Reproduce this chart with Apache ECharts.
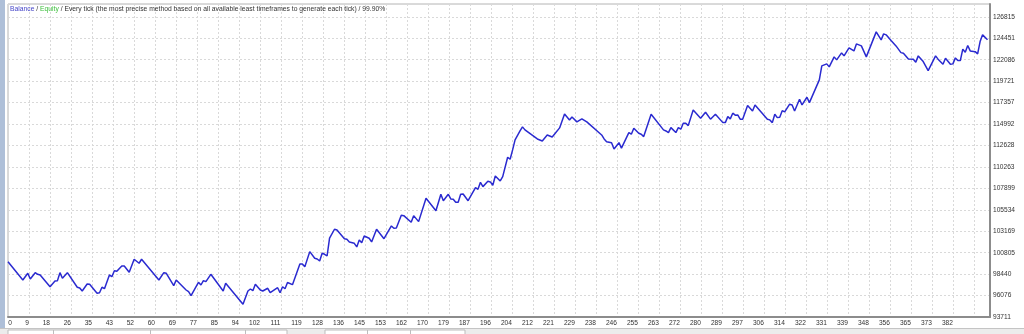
<!DOCTYPE html>
<html>
<head>
<meta charset="utf-8">
<script src="https://cdn.jsdelivr.net/npm/echarts@6/dist/echarts.min.js"></script>
<style>
html,body{margin:0;padding:0;background:#fff;}
#chart{width:1024px;height:334px;}
</style>
</head>
<body>
<div id="chart"></div>
<script>
// ---- data ----
const tradeNo = [0,6,8,9,11,12,13,17,19,20,21,22,24,28,29,30,32,33,36,37,38,39,41,42,43,44,46,47,49,51,53,54,61,63,64,67,68,72,73,74,77,78,79,80,82,87,88,95,97,98,99,100,102,103,105,106,109,110,111,112,113,115,118,119,120,122,124,125,126,127,128,129,130,132,133,136,137,138,140,141,142,143,144,146,147,149,152,155,156,157,159,160,163,164,166,169,173,175,176,178,179,180,181,182,183,184,186,189,190,191,192,194,195,196,197,199,200,202,203,204,205,207,208,209,214,216,218,220,221,223,225,227,228,230,232,234,240,241,242,244,245,247,248,251,252,253,255,256,257,260,265,266,267,268,270,271,272,273,274,275,277,280,282,284,286,289,290,291,292,293,294,295,296,297,299,301,302,307,308,309,310,311,312,313,314,316,317,318,320,321,323,324,328,329,331,332,334,335,337,338,340,342,343,345,347,351,353,354,355,357,359,361,362,364,366,367,368,370,372,375,376,378,379,381,382,383,384,385,386,387,388,389,391,392,393,394,396];
const balance = [99810,97790,98530,97900,98600,98420,98350,97050,97680,97720,98600,97980,98600,96990,96910,96580,97350,97320,96330,96390,96990,96830,98350,98160,98820,98750,99340,99340,98640,100080,99640,100080,97790,98600,98530,97170,97790,96690,96500,96060,97540,97240,97720,97610,98420,96580,97430,95110,96580,96800,96610,97320,96690,96580,96880,96390,96940,96390,97050,96830,97520,97280,99560,99560,99260,100920,100190,100110,99890,100740,100630,100440,102400,103390,103310,102350,102280,101990,101840,101440,102210,101910,102650,102400,101990,103390,102350,103750,103500,103530,104930,104890,104160,104890,104230,106810,105440,107250,106540,107250,106730,106700,106370,106370,107250,107280,106540,107980,107800,108570,108090,108680,108610,108240,109270,108720,109190,111330,111110,112140,113240,114230,114680,114350,113350,113130,113790,113570,113900,114570,116110,115450,115780,115230,115560,115230,113790,113350,113050,112940,112250,112940,112330,114050,113870,114530,113980,113870,113610,116080,114350,114230,114050,114600,114050,114600,114420,115080,115080,114820,116550,115640,116300,115530,116080,115150,115150,115810,115560,116190,115970,116000,115530,115530,117030,116440,117100,115530,115450,115150,116080,115700,115750,116470,116330,117180,117100,116440,117730,117100,117950,117360,119860,121410,121630,121300,122400,122070,122840,122510,123390,123060,123830,123610,122400,125160,124280,124940,124830,124200,123610,122870,122810,122180,122150,121820,122510,121880,120890,122510,122150,121590,122260,121590,121630,122290,121990,121990,123250,122920,123650,123060,122980,122730,124090,124830,124280];
const xLabels = ["0","9","18","26","35","43","52","60","69","77","85","94","102","111","119","128","136","145","153","162","170","179","187","196","204","212","221","229","238","246","255","263","272","280","289","297","306","314","322","331","339","348","356","365","373","382"];
const yLabels = ["93711","96076","98440","100805","103169","105534","107899","110263","112628","114992","117357","119721","122086","124451","126815"];
const legendParts = ["Balance", "Equity", "Every tick (the most precise method based on all available least timeframes to generate each tick)", "99.90%"];

// ---- scales derived from the tick labels ----
const xMax = 397;
const xStep = Number(xLabels[xLabels.length - 1]) / (xLabels.length - 1);
const yMin = Number(yLabels[0]);
const yStep = (Number(yLabels[yLabels.length - 1]) - yMin) / (yLabels.length - 1);
const ySteps = 14.6;
const yMax = yMin + ySteps * yStep;

const FONT = 'Liberation Sans, Arial, sans-serif';
const FS = 6.6;
const TFS = 6.75;
const digitW = FS * 0.556;

const chart = echarts.init(document.getElementById('chart'), null, {renderer: 'canvas'});
const gridLine = {show: true, lineStyle: {color: '#d9d9d9', width: 1, type: [2, 2]}};

chart.setOption({
  animation: false,
  backgroundColor: '#ffffff',
  title: {
    left: 10, top: 5, padding: 0,
    text: '{b|' + legendParts[0] + '}{s| / }{e|' + legendParts[1] + '}{s| / ' + legendParts[2] + ' / ' + legendParts[3] + '}',
    textStyle: {
      fontFamily: FONT, fontSize: TFS, fontWeight: 'normal', lineHeight: 8,
      rich: {
        b: {color: '#4646c8', fontFamily: FONT, fontSize: TFS},
        e: {color: '#3cbf3c', fontFamily: FONT, fontSize: TFS},
        s: {color: '#333333', fontFamily: FONT, fontSize: TFS}
      }
    }
  },
  grid: {left: 8, right: 34, top: 4, bottom: 17, show: true, borderColor: '#b4b4b4', borderWidth: 1, backgroundColor: '#ffffff'},
  xAxis: [{
    type: 'value', min: 0, max: xMax, interval: xStep,
    axisLine: {show: true, onZero: false, lineStyle: {color: '#8c8c8c', width: 2}},
    axisTick: {show: false},
    splitLine: gridLine,
    axisLabel: {
      show: true, margin: 3, align: 'center', color: '#333', fontFamily: FONT, fontSize: FS,
      showMinLabel: true, showMaxLabel: true, hideOverlap: false,
      formatter: function (v) {
        const i = Math.round(v / xStep);
        if (Math.abs(v - i * xStep) > 1e-6 || i >= xLabels.length) return '';
        const s = xLabels[i];
        if (i === 0) return '{z|' + s + '}';
        return '{r' + s.length + '|' + s + '}';
      },
      rich: {
        z: {fontFamily: FONT, fontSize: FS, color: '#333', padding: [0, 0, 0, 4]},
        r1: {fontFamily: FONT, fontSize: FS, color: '#333', padding: [0, digitW * 1, 0, 0]},
        r2: {fontFamily: FONT, fontSize: FS, color: '#333', padding: [0, digitW * 2, 0, 0]},
        r3: {fontFamily: FONT, fontSize: FS, color: '#333', padding: [0, digitW * 3, 0, 0]}
      }
    }
  }],
  yAxis: [{
    type: 'value', min: yMin, max: yMax, show: false,
    splitLine: {show: false}
  }, {
    type: 'value', position: 'right', min: 0, max: ySteps, interval: 1,
    axisLine: {show: true, lineStyle: {color: '#8c8c8c', width: 2}},
    axisTick: {show: false},
    splitLine: gridLine,
    axisLabel: {
      margin: 3, color: '#333', fontFamily: FONT, fontSize: FS, padding: [2, 0, 0, 0],
      showMaxLabel: false,
      formatter: function (v) {
        const i = Math.round(v);
        if (Math.abs(v - i) > 1e-6 || i >= yLabels.length) return '';
        return yLabels[i];
      }
    }
  }],
  graphic: [
    {type: 'rect', shape: {x: 0, y: 0, width: 5, height: 334}, style: {fill: '#aebfd8'}, silent: true},
    {type: 'rect', shape: {x: 0, y: 328, width: 1024, height: 6}, style: {fill: '#ececec'}, silent: true},
    {type: 'line', shape: {x1: 0, y1: 328.5, x2: 1024, y2: 328.5}, style: {stroke: '#c4c4c4', lineWidth: 1}, silent: true},
    {type: 'rect', shape: {x: 8, y: 330, width: 279, height: 6}, style: {fill: '#ffffff', stroke: '#bdbdbd', lineWidth: 1}, silent: true},
    {type: 'line', shape: {x1: 53.5, y1: 330, x2: 53.5, y2: 334}, style: {stroke: '#bdbdbd'}, silent: true},
    {type: 'line', shape: {x1: 150.5, y1: 330, x2: 150.5, y2: 334}, style: {stroke: '#bdbdbd'}, silent: true},
    {type: 'line', shape: {x1: 245.5, y1: 330, x2: 245.5, y2: 334}, style: {stroke: '#bdbdbd'}, silent: true},
    {type: 'rect', shape: {x: 325, y: 330, width: 140, height: 6}, style: {fill: '#ffffff', stroke: '#bdbdbd', lineWidth: 1}, silent: true},
    {type: 'line', shape: {x1: 367.5, y1: 330, x2: 367.5, y2: 334}, style: {stroke: '#bdbdbd'}, silent: true},
    {type: 'line', shape: {x1: 410.5, y1: 330, x2: 410.5, y2: 334}, style: {stroke: '#bdbdbd'}, silent: true}
  ],
  series: [{
    name: legendParts[0],
    type: 'line',
    xAxisIndex: 0, yAxisIndex: 0,
    data: tradeNo.map((t, i) => [t, balance[i]]),
    showSymbol: false, symbol: 'none', smooth: false,
    lineStyle: {color: '#2a2ad0', width: 1.5},
    z: 5
  }]
});
</script>
</body>
</html>
